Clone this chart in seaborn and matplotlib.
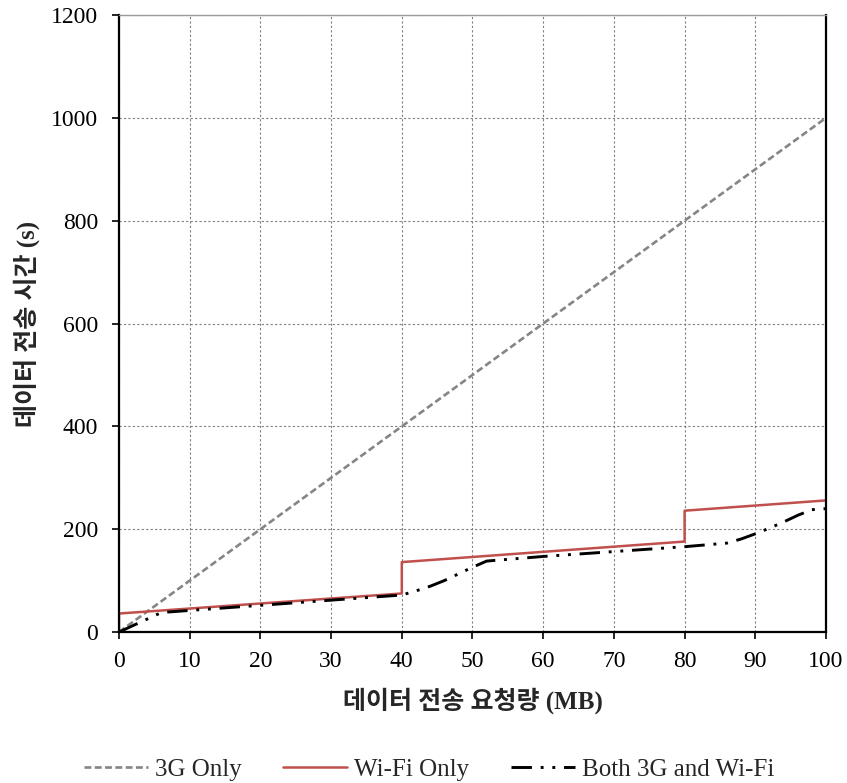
import numpy as np
import pandas as pd
import seaborn as sns
import matplotlib
matplotlib.use("Agg")
import matplotlib.pyplot as plt

# Requested data size (MB) and transfer time (s) per network mode
size_3g = [0, 100]
time_3g = [0, 1000]

size_wifi = [0, 0, 40, 40, 80, 80, 100]
time_wifi = [0, 36, 75, 136, 176, 236, 256]

size_both = [0, 6, 40, 42, 44, 46, 48, 50, 52, 60, 80, 86, 88, 90, 92, 94, 96, 98, 100]
time_both = [0, 38, 72, 80, 89, 100, 113, 126, 138, 147, 166, 173, 181, 191, 202, 214, 227, 238, 240]

x_ticks = list(range(0, 101, 10))
y_ticks = list(range(0, 1201, 200))

sns.set_theme(style="white")
plt.rcParams["font.family"] = ["Liberation Serif", "Noto Sans CJK KR"]
plt.rcParams["axes.unicode_minus"] = False

fig = plt.figure(figsize=(8.47, 7.83), dpi=100)
ax = fig.add_axes([0.1405, 0.1928, 0.8347, 0.788])

sns.lineplot(x=size_3g, y=time_3g, ax=ax, color="#858585", linewidth=1.9,
             estimator=None, sort=False, label="3G Only")
ax.lines[-1].set_dashes((2.6, 1.3))

sns.lineplot(x=size_wifi, y=time_wifi, ax=ax, color="#C0504D", linewidth=1.8,
             estimator=None, sort=False, label="Wi-Fi Only")

sns.lineplot(x=size_both, y=time_both, ax=ax, color="black", linewidth=2.1,
             estimator=None, sort=False, label="Both 3G and Wi-Fi")
ax.lines[-1].set_dashes((7, 3, 1, 3, 1, 3))

ax.set_xlim(0, 100)
ax.set_ylim(0, 1200)
ax.set_xticks(x_ticks)
ax.set_yticks(y_ticks)
ax.tick_params(axis="both", which="major", direction="out", length=5, width=1.2,
               color="black", labelsize=17, labelcolor="black",
               left=True, bottom=True)
ax.tick_params(axis="y", pad=10)
ax.tick_params(axis="x", pad=9)

ax.grid(True, color="#7f7f7f", linestyle=(0, (2, 2)), linewidth=0.8)
ax.set_axisbelow(True)

for side in ["left", "bottom", "right"]:
    ax.spines[side].set_color("black")
    ax.spines[side].set_linewidth(1.6)
ax.spines["top"].set_color("#9a9a9a")
ax.spines["top"].set_linewidth(1.0)

ax.set_xlabel("데이터 전송 요청량 (MB)", fontsize=18, fontweight="bold", labelpad=11)
ax.set_ylabel("데이터 전송 시간 (s)", fontsize=18, fontweight="bold", labelpad=8)

leg = ax.legend(loc="center", bbox_to_anchor=(0.439, -0.2235), ncol=3,
                frameon=False, fontsize=18, handlelength=2.56, columnspacing=1.65,
                handletextpad=0.28)

fig.savefig("out.png", dpi=100)
